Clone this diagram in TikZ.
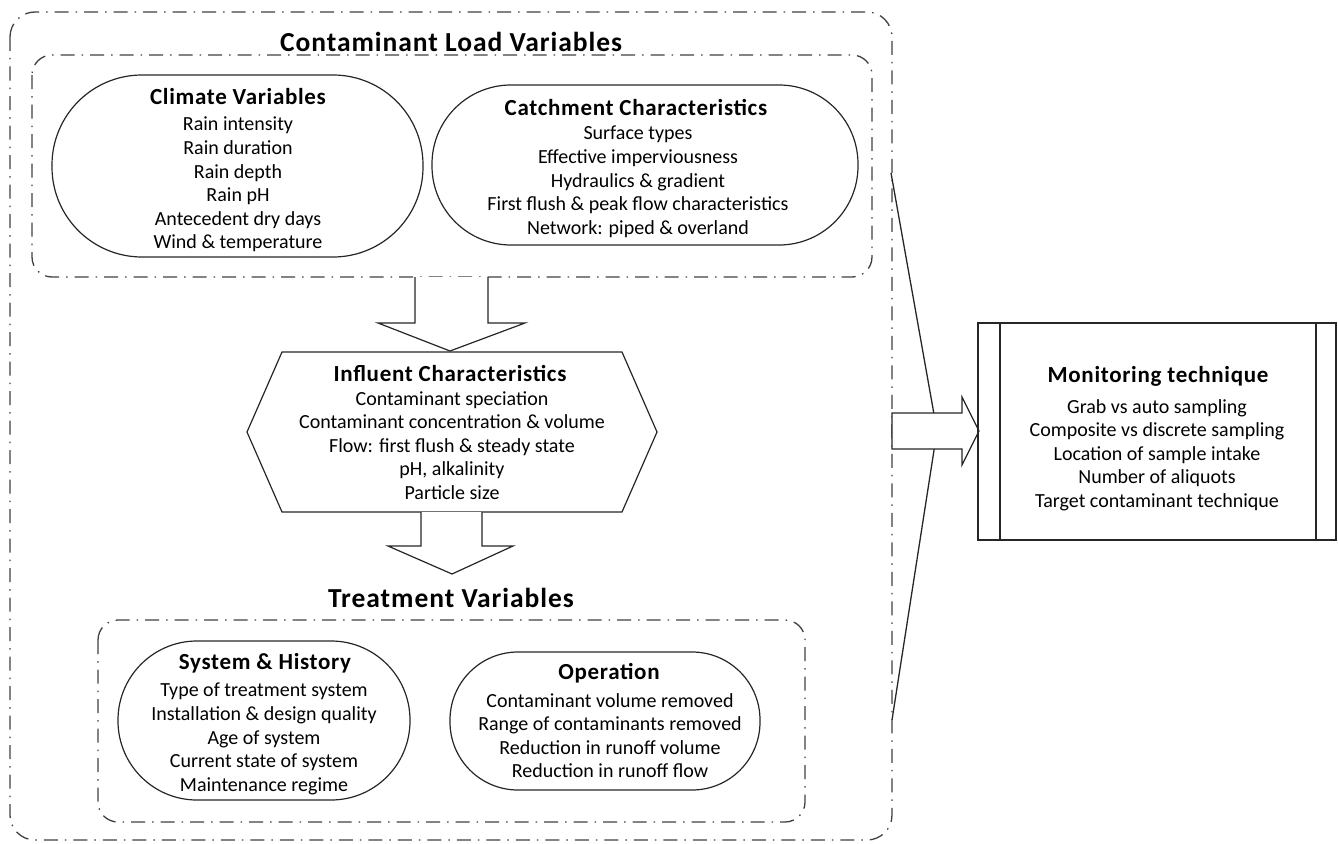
\documentclass[tikz,border=0pt]{standalone}
\usepackage{fontspec}
\setmainfont{Carlito}
\newfontfamily\wideboldfont[LetterSpace=3.5]{Carlito}
\newfontfamily\subboldfont[LetterSpace=3]{Carlito}
\begin{document}
\begin{tikzpicture}[x=1pt,y=-1pt,
  dashbox/.style={draw=black!75, line width=1.3pt, dash pattern=on 14pt off 7pt on 1.5pt off 7pt},
  shapeline/.style={draw=black!85, line width=1.2pt},
  bigtitle/.style={font=\wideboldfont\fontsize{27.5}{30}\selectfont\bfseries},
  subtitle/.style={font=\subboldfont\fontsize{23}{26}\selectfont\bfseries, anchor=center},
  body/.style={font=\fontsize{20}{23.6}\selectfont, align=center, anchor=north, inner sep=0pt},
  blockarrow/.style={draw=black!85, line width=1.2pt, fill=white, line join=miter}
]
\useasboundingbox (0,0) rectangle (1338,843);

% outer and inner dash-dot frames
\draw[dashbox, rounded corners=25pt] (10,12) rectangle (892,840);
\draw[dashbox, rounded corners=20pt] (32,55) rectangle (872,277);
\draw[dashbox, rounded corners=20pt] (98,620) rectangle (805,822);

\node[bigtitle] (tload) at (451,42) {Contaminant Load Variables};
\node[bigtitle] (ttreat) at (451,598) {Treatment Variables};

% Climate
\draw[shapeline, rounded corners=90pt] (52,75) rectangle (423,257);
\node[subtitle] (tclim) at (238,97) {Climate Variables};
\node[body] (bclim) at (238,117) {Rain intensity\\Rain duration\\Rain depth\\Rain pH\\Antecedent dry days\\Wind \& temperature};

% Catchment
\draw[shapeline, rounded corners=79pt] (432,85) rectangle (858,245);
\node[subtitle] (tcat) at (636,107) {Catchment Characteristics};
\node[body] (bcat) at (638,126) {Surface types\\Effective imperviousness\\Hydraulics \& gradient\\First flush \& peak flow characteristics\\Network: piped \& overland};

% arrow 1
\draw[blockarrow] (415,277) -- (415,323) -- (378,323) -- (450,351) -- (525,323) -- (488,323) -- (488,277);

% Influent hexagon
\draw[shapeline] (247,432) -- (282,352) -- (622,352) -- (657,432) -- (622,512) -- (282,512) -- cycle;
\node[subtitle] (tinf) at (450,373) {Influent Characteristics};
\node[body] (binf) at (452,391) {Contaminant speciation\\Contaminant concentration \& volume\\Flow: first flush \& steady state\\pH, alkalinity\\Particle size};

% arrow 2
\draw[blockarrow] (421,512) -- (421,546) -- (388,546) -- (452,574) -- (513,546) -- (482,546) -- (482,512);

% System & History
\draw[shapeline, rounded corners=79pt] (118,641) rectangle (410,800);
\node[subtitle] (tsys) at (265,663) {System \& History};
\node[body] (bsys) at (264,683) {Type of treatment system\\Installation \& design quality\\Age of system\\Current state of system\\Maintenance regime};

% Operation
\draw[shapeline, rounded corners=68pt] (450,652) rectangle (760,790);
\node[subtitle] (top) at (609,673) {Operation};
\node[body] (bop) at (610,693) {Contaminant volume removed\\Range of contaminants removed\\Reduction in runoff volume\\Reduction in runoff flow};

% bracket
\coordinate (b1) at (891,173);
\coordinate (b2) at (937,431);
\coordinate (b3) at (892,720);
\draw[shapeline, line width=1.3pt] (b1) -- (b2) -- (b3);

% right block arrow
\draw[blockarrow] (892,413) -- (962,413) -- (962,397) -- (979,431) -- (962,465) -- (962,449) -- (892,449) -- cycle;

% Monitoring box
\draw[shapeline] (978,323) rectangle (1336,540);
\draw[shapeline] (1000,323) -- (1000,540);
\draw[shapeline] (1316,323) -- (1316,540);
\node[subtitle] (tmon) at (1158,376) {Monitoring technique};
\node[body] (bmon) at (1157,399) {Grab vs auto sampling\\Composite vs discrete sampling\\Location of sample intake\\Number of aliquots\\Target contaminant technique};
\end{tikzpicture}
\end{document}
